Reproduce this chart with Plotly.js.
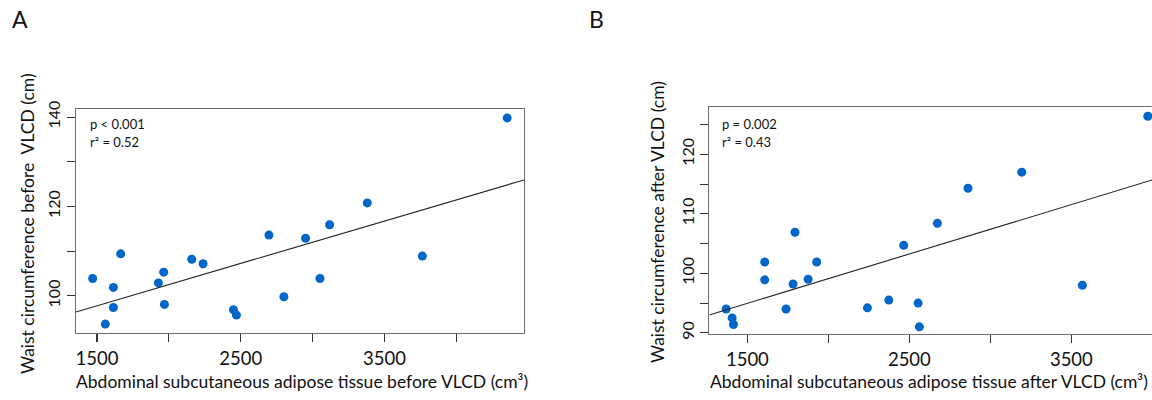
<!DOCTYPE html>
<html><head><meta charset="utf-8">
<script src="https://cdn.plot.ly/plotly-3.0.1.min.js"></script>
<style>html,body{margin:0;padding:0;overflow:hidden;background:#fff}#chart{width:1170px;height:400px}</style>
</head><body><div id="chart"></div>
<script>
// Panel A: before VLCD
const satBefore = [1470,1558,1614,1614,1665,1927,1964,1969,2159,2238,2449,2470,2696,2800,2951,3051,3118,3380,3763,4353];
const waistBefore = [103.9,93.7,101.9,97.4,109.4,102.9,105.3,98.1,108.2,107.2,96.9,95.7,113.6,99.8,112.9,103.9,115.9,120.8,108.9,139.8];
// Panel B: after VLCD
const satAfter = [1369,1406,1414,1607,1607,1794,1739,1782,1875,1928,2241,2373,2554,2562,2465,2673,2862,3194,3568,3972];
const waistAfter = [94.0,92.5,91.4,101.9,98.9,106.9,94.0,98.2,99.0,101.9,94.2,95.5,95.0,91.0,104.7,108.4,114.3,117.0,98.0,126.4];
// Regression fits [A, B]
const fitIntercepts = [83.56, 82.5];
const fitSlopes = [0.00948, 0.0083];
const statsText = [["p < 0.001", "r\u00b2 = 0.52"], ["p = 0.002", "r\u00b2 = 0.43"]];
const panelLetters = ["A", "B"];
const xTitles = ["Abdominal subcutaneous adipose tissue before VLCD (cm\u00b3)", "Abdominal subcutaneous adipose tissue after VLCD (cm\u00b3)"];
const yTitles = ["Waist circumference before  VLCD (cm)", "Waist circumference after VLCD (cm)"];
const xTickVals = [1500,2000,2500,3000,3500,4000];
const xTickText = ["1500","","2500","","3500",""];
const yTickValsA = [100,110,120,130,140];
const yTickTextA = ["100","","120","","140"];
const yTickValsB = [90,95,100,105,110,115,120,125];
const yTickTextB = ["90","","100","","110","","120",""];

const W = 1170, H = 400;
const xRangeA = [1354, 4470], yRangeA = [91.7, 141.8];
const xRangeB = [1265, 4075], yRangeB = [89.8, 127.9];
const FONT = "Lato, 'Open Sans', sans-serif";
const TXT = "#111";
const dotColor = "#0066c8";

function fitLine(range, i) { return range.map(x => fitIntercepts[i] + fitSlopes[i] * x); }

const traces = [
  {x: satBefore, y: waistBefore, type: "scatter", mode: "markers", xaxis: "x", yaxis: "y",
   marker: {color: dotColor, size: 9}, hoverinfo: "x+y"},
  {x: xRangeA, y: fitLine(xRangeA, 0), type: "scatter", mode: "lines", xaxis: "x", yaxis: "y",
   line: {color: "#222", width: 1.1}, hoverinfo: "skip"},
  {x: satAfter, y: waistAfter, type: "scatter", mode: "markers", xaxis: "x2", yaxis: "y2",
   marker: {color: dotColor, size: 9}, hoverinfo: "x+y", cliponaxis: false},
  {x: xRangeB, y: fitLine(xRangeB, 1), type: "scatter", mode: "lines", xaxis: "x2", yaxis: "y2",
   line: {color: "#222", width: 1.1}, hoverinfo: "skip"}
];

const axisCommon = {
  showline: true, mirror: true, linecolor: "#6e6e6e", linewidth: 1.4,
  ticks: "outside", ticklen: 8, tickwidth: 1.1, tickcolor: "#333",
  showgrid: false, zeroline: false, tickmode: "array", fixedrange: true
};

const layout = {
  width: W, height: H, showlegend: false,
  paper_bgcolor: "#fff", plot_bgcolor: "#fff",
  margin: {l: 0, r: 0, t: 0, b: 0},
  font: {family: FONT, color: TXT},
  xaxis: Object.assign({}, axisCommon, {domain: [76/W, 524/W], range: xRangeA, anchor: "y",
    tickvals: xTickVals, ticktext: xTickText, tickfont: {family: FONT, size: 18.5, color: TXT}}),
  yaxis: Object.assign({}, axisCommon, {domain: [(H-333)/H, (H-109)/H], range: yRangeA, anchor: "x",
    tickvals: yTickValsA, ticktext: yTickTextA, tickangle: -90, tickfont: {family: FONT, size: 16, color: TXT}}),
  xaxis2: Object.assign({}, axisCommon, {domain: [709.3/W, 1164.5/W], range: xRangeB, anchor: "y2",
    tickvals: xTickVals, ticktext: xTickText, tickfont: {family: FONT, size: 18.5, color: TXT}}),
  yaxis2: Object.assign({}, axisCommon, {domain: [(H-334)/H, (H-107.3)/H], range: yRangeB, anchor: "x2",
    tickvals: yTickValsB, ticktext: yTickTextB, tickangle: -90, tickfont: {family: FONT, size: 16, color: TXT}}),
  annotations: []
};

function ann(text, px, py, size, opts) {
  return Object.assign({text: text, xref: "paper", yref: "paper", x: px / W, y: 1 - py / H,
    showarrow: false, xanchor: "center", yanchor: "middle",
    font: {family: FONT, size: size, color: TXT}}, opts || {});
}
layout.annotations.push(ann(panelLetters[0], 20, 19, 23));
layout.annotations.push(ann(panelLetters[1], 596, 19, 23));
layout.annotations.push(ann(xTitles[0], 302, 381, 17.5));
layout.annotations.push(ann(xTitles[1], 1150, 381, 17.5, {xanchor: "right"}));
layout.annotations.push(ann(yTitles[0], 27, 224, 17.5, {textangle: -90}));
layout.annotations.push(ann(yTitles[1], 657, 222, 17.5, {textangle: -90}));
layout.annotations.push(ann(statsText[0][0], 88, 124, 13, {xanchor: "left"}));
layout.annotations.push(ann(statsText[0][1], 88, 141.5, 13, {xanchor: "left"}));
layout.annotations.push(ann(statsText[1][0], 720, 124, 13, {xanchor: "left"}));
layout.annotations.push(ann(statsText[1][1], 720, 141.5, 13, {xanchor: "left"}));

Plotly.newPlot("chart", traces, layout, {displayModeBar: false, staticPlot: true});
</script>
</body></html>
